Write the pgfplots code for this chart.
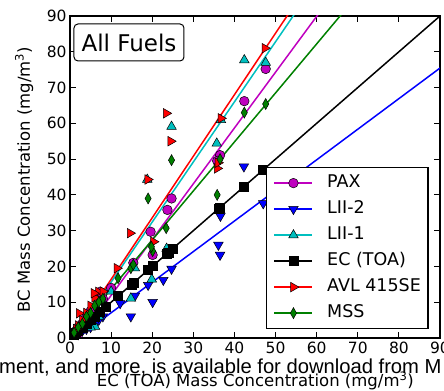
\documentclass[border=0pt]{standalone}
\usepackage{fontspec}
\setmainfont{DejaVu Sans}
\newfontfamily\wmfont{Liberation Sans}
\usepackage{pgfplots}
\pgfplotsset{compat=1.18}
\definecolor{mplm}{rgb}{0.75,0,0.75}
\definecolor{mplc}{rgb}{0,0.75,0.75}
\definecolor{mplg}{rgb}{0,0.5,0}
\begin{document}
\begin{tikzpicture}
\begin{axis}[
 at={(70bp,53bp)}, anchor=south west, scale only axis, width=370bp, height=322bp,
 xmin=0,xmax=90,ymin=0,ymax=90,
 xtick={0,10,...,90}, ytick={0,10,...,90},
 tick align=inside, major tick length=6bp,
 axis line style={line width=1.2bp},
 every tick/.style={black, line width=0.8bp},
 /pgf/number format/assume math mode=true,
 tick label style={font=\fontsize{15.5bp}{18bp}\selectfont},
 xlabel={EC (TOA) Mass Concentration (mg/m\textsuperscript{3})},
 ylabel={BC Mass Concentration (mg/m\textsuperscript{3})},
 label style={font=\fontsize{16.5bp}{19bp}\selectfont},
 xlabel style={at={(axis description cs:0.501,-0.152)}, anchor=base},
 ylabel style={at={(axis description cs:-0.124,0.492)}, anchor=center},
 legend style={at={(axis description cs:0.530,0.531)}, anchor=north west, draw=black, line width=1.2bp, fill=white,
   inner xsep=7bp, inner ysep=7bp, row sep=9bp, font=\fontsize{17.5bp}{20bp}\selectfont,
   nodes={inner sep=0pt, text height=13bp, text depth=4bp},
   /tikz/every odd column/.append style={column sep=14bp}},
 legend cell align=left,
 legend image code/.code={\draw[#1, mark repeat=2, mark phase=2] plot coordinates {(0bp,0bp) (19bp,0bp) (38bp,0bp)};},
]
% PAX
\addplot[only marks, mark=*, mark size=4.8bp, mark options={fill=mplm, draw=black, line width=0.5bp}, forget plot] coordinates {
(47.6,75.2) (42.4,66.2) (36.5,51.1) (35.8,49.5) (24.7,39.0) (23.7,35.8) (19.6,29.7) (20.1,23.2) (15.4,21.0)
(10.0,14.0) (8.0,11.0) (7.3,12.9) (6.0,8.0) (5.0,7.5) (4.0,6.0) (3.0,4.0) (2.0,3.0) (1.5,2.0)};
\addplot[mplm, line width=1.5bp, forget plot] coordinates {(0,-3.7) (90,136.7)};
% LII-2
\addplot[only marks, mark=triangle*, mark size=5.5bp, mark options={rotate=180, fill=blue, draw=black, line width=0.5bp}, forget plot] coordinates {
(42.3,47.9) (47.0,37.6) (36.1,26.0) (36.5,23.2) (36.6,34.1) (24.7,19.3) (22.7,16.2) (20.1,10.0) (19.0,14.8)
(14.8,6.0) (15.8,11.8) (12.2,9.7) (8.0,6.0) (7.0,5.0) (6.0,4.0) (5.0,3.0) (4.0,2.5) (3.0,2.0) (2.0,1.0)};
\addplot[blue, line width=1.5bp, forget plot] coordinates {(0,-1.5) (90,75.45)};
% LII-1
\addplot[only marks, mark=triangle*, mark size=5.5bp, mark options={fill=mplc, draw=black, line width=0.5bp}, forget plot] coordinates {
(47.6,77.0) (42.4,77.7) (36.7,61.0) (35.7,54.4) (24.7,59.1) (18.8,44.3) (15.8,19.5) (14.8,11.1) (19.9,16.4)
(23.5,25.0) (10.0,13.0) (8.0,10.0) (7.0,6.0) (6.1,3.2) (5.0,3.0) (3.0,4.0) (2.0,2.0)};
\addplot[mplc, line width=1.5bp, forget plot] coordinates {(0,-1.2) (90,150)};
% EC (TOA)
\addplot[only marks, mark=square*, mark size=4.5bp, mark options={fill=black, draw=black, line width=0.5bp}, forget plot] coordinates {
(47.0,47.0) (42.3,42.3) (36.1,36.1) (36.4,36.4) (25.0,25.0) (23.9,23.9) (23.5,23.5) (20.1,20.1) (19.0,19.0)
(15.4,15.4) (15.0,15.0) (11.7,11.7) (8.8,8.8) (7.3,7.3) (6.0,6.0) (5.0,5.0) (4.0,4.0) (3.0,3.0) (2.0,2.0) (1.5,1.5) (1.0,1.0)};
\addplot[black, line width=1.5bp, forget plot] coordinates {(0,0) (90,90)};
% AVL 415SE
\addplot[only marks, mark=triangle*, mark size=5.5bp, mark options={rotate=-90, fill=red, draw=black, line width=0.5bp}, forget plot] coordinates {
(47.4,81.0) (36.7,61.4) (35.8,47.4) (36.0,49.0) (23.4,62.8) (24.5,55.0) (18.9,44.3) (14.6,29.3) (20.3,26.9)
(11.4,19.5) (6.9,12.9) (6.0,11.3) (5.8,12.5) (2.2,6.9) (3.0,5.0) (2.0,3.5) (4.0,7.0) (5.0,9.0) (1.5,2.5) (8.0,13.0)};
\addplot[red, line width=1.5bp, forget plot] coordinates {(0,-0.8) (90,154)};
% MSS
\addplot[only marks, mark=diamond*, mark size=5.5bp, mark options={xscale=0.75, fill=mplg, draw=black, line width=0.5bp}, forget plot] coordinates {
(47.6,65.4) (42.4,63.0) (36.5,50.0) (35.8,40.0) (24.7,49.7) (19.0,39.0) (23.4,30.7) (20.1,24.3) (19.8,25.5)
(14.8,19.5) (15.4,20.5) (11.7,16.7) (8.0,11.0) (7.0,10.0) (6.0,9.0) (5.0,7.0) (4.0,6.0) (3.0,4.0) (2.0,3.0) (1.0,1.5)};
\addplot[mplg, line width=1.5bp, forget plot] coordinates {(0,0) (90,123.3)};
% legend
\addlegendimage{mplm, line width=1.5bp, mark=*, mark size=4.8bp, mark options={fill=mplm, draw=black, line width=0.5bp}}
\addlegendentry{PAX}
\addlegendimage{blue, line width=1.5bp, mark=triangle*, mark size=5.5bp, mark options={rotate=180, fill=blue, draw=black, line width=0.5bp}}
\addlegendentry{LII-2}
\addlegendimage{mplc, line width=1.5bp, mark=triangle*, mark size=5.5bp, mark options={fill=mplc, draw=black, line width=0.5bp}}
\addlegendentry{LII-1}
\addlegendimage{black, line width=1.5bp, mark=square*, mark size=4.5bp, mark options={fill=black, draw=black, line width=0.5bp}}
\addlegendentry{EC (TOA)}
\addlegendimage{red, line width=1.5bp, mark=triangle*, mark size=5.5bp, mark options={rotate=-90, fill=red, draw=black, line width=0.5bp}}
\addlegendentry{AVL 415SE}
\addlegendimage{mplg, line width=1.5bp, mark=diamond*, mark size=5.5bp, mark options={xscale=0.75, fill=mplg, draw=black, line width=0.5bp}}
\addlegendentry{MSS}
\node[draw=black, rounded corners=4bp, fill=white, line width=1bp, minimum width=110bp, minimum height=37bp, inner sep=0pt,
  font=\fontsize{23bp}{26bp}\selectfont] at (axis cs:14.35,82.6) {All Fuels};
\end{axis}
\node[anchor=base west, inner sep=0pt, font=\wmfont\fontsize{20.2bp}{24bp}\selectfont] at (-1bp,18bp) {ment, and more, is available for download from M};
\pgfresetboundingbox
\useasboundingbox (0,0) rectangle (444bp,391bp);
\end{tikzpicture}
\end{document}
